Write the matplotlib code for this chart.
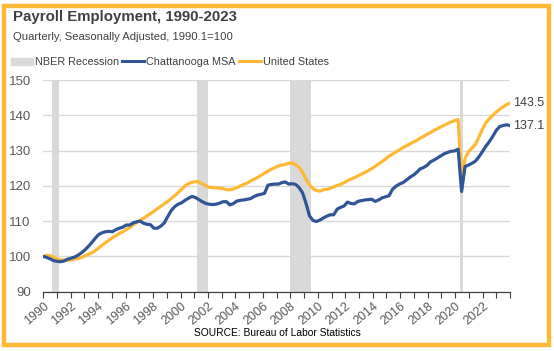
import matplotlib
matplotlib.use("Agg")
import matplotlib.pyplot as plt
from matplotlib.patches import Rectangle
from matplotlib.lines import Line2D
import numpy as np

plt.rcParams['font.family'] = ['Liberation Sans', 'DejaVu Sans']

years = list(range(1990, 2024))
quarters = [f"{y}Q{q}" for y in years for q in range(1, 5)]

united_states = [
    100.0, 100.3, 100.2, 99.8,
    99.3, 99.0, 99.0, 98.9,
    99.0, 99.2, 99.4, 99.7,
    100.1, 100.6, 101.0, 101.6,
    102.4, 103.2, 103.9, 104.6,
    105.3, 105.9, 106.5, 107.0,
    107.6, 108.2, 108.9, 109.6,
    110.2, 110.8, 111.5, 112.1,
    112.8, 113.5, 114.2, 114.9,
    115.6, 116.4, 117.2, 118.1,
    119.0, 120.0, 120.6, 121.0,
    121.2, 121.1, 120.6, 120.0,
    119.6, 119.5, 119.4, 119.4,
    119.2, 118.9, 118.9, 119.1,
    119.5, 120.0, 120.4, 120.8,
    121.4, 121.9, 122.4, 123.0,
    123.6, 124.2, 124.7, 125.2,
    125.6, 125.9, 126.1, 126.4,
    126.5, 126.0, 125.2, 123.8,
    121.9, 120.3, 119.2, 118.7,
    118.5, 118.9, 119.0, 119.3,
    119.7, 120.1, 120.4, 120.9,
    121.5, 121.9, 122.3, 122.8,
    123.3, 123.8, 124.3, 124.9,
    125.5, 126.2, 126.9, 127.6,
    128.4, 129.0, 129.6, 130.2,
    130.8, 131.3, 131.9, 132.4,
    132.9, 133.5, 134.0, 134.6,
    135.1, 135.7, 136.2, 136.7,
    137.2, 137.7, 138.1, 138.5,
    138.8, 122.0, 127.8, 129.7,
    130.7, 131.8, 133.8, 136.0,
    137.9, 139.0, 140.0, 140.9,
    141.7, 142.4, 143.0, 143.5,
]

chattanooga = [
    100.0, 99.7, 99.3, 98.8,
    98.6, 98.5, 98.7, 99.2,
    99.5, 99.8, 100.3, 101.0,
    101.8, 102.8, 103.9, 105.1,
    106.2, 106.7, 107.0, 107.1,
    107.0, 107.6, 108.0, 108.3,
    108.9, 108.9, 109.5, 109.8,
    110.0, 109.4, 109.1, 109.0,
    108.0, 108.0, 108.6, 109.5,
    111.3, 113.0, 114.1, 114.8,
    115.2, 115.9, 116.5, 117.0,
    116.7, 116.1, 115.5, 115.0,
    114.8, 114.7, 114.8, 115.1,
    115.5, 115.5, 114.6, 115.0,
    115.7, 115.9, 116.0, 116.2,
    116.4, 117.0, 117.4, 117.6,
    117.9, 120.2, 120.4, 120.5,
    120.5, 120.9, 121.1, 120.5,
    120.6, 120.4, 119.5, 118.0,
    115.0, 111.5, 110.2, 109.9,
    110.3, 110.9, 111.4, 111.8,
    111.8, 113.4, 113.9, 114.3,
    115.4, 115.0, 114.9, 115.6,
    115.8, 116.0, 116.1, 116.2,
    115.6, 116.0, 116.6, 116.9,
    117.2, 119.0, 119.9, 120.5,
    120.9, 121.6, 122.4, 123.0,
    123.8, 124.8, 125.2, 125.8,
    126.8, 127.3, 127.9, 128.5,
    129.1, 129.5, 129.8, 129.9,
    130.4, 118.4, 125.5, 125.9,
    126.4, 127.0, 128.2, 129.7,
    131.2, 132.5, 134.0, 135.7,
    136.8, 137.1, 137.3, 137.1,
]

recession_quarters = ['1990Q4', '1991Q1', '2001Q2', '2001Q3', '2001Q4',
                      '2008Q1', '2008Q2', '2008Q3', '2008Q4', '2009Q1', '2009Q2',
                      '2020Q2']

tick_years = list(range(1990, 2025))
label_years = list(range(1990, 2023, 2))
y_ticks = [90, 100, 110, 120, 130, 140, 150]

BLUE = '#2F5597'
ORANGE = '#FFB833'
GRAY_BAR = '#D9D9D9'
TXT = '#404040'
TICK_TXT = '#595959'

W, H = 554, 351
fig = plt.figure(figsize=(W / 100, H / 100), dpi=100)
fig.patch.set_facecolor('white')

left, right, top, bottom = 43.3, 510.0, 80.0, 291.7
ax = fig.add_axes([left / W, 1 - bottom / H, (right - left) / W, (bottom - top) / H])

x = np.arange(len(quarters))
rec_idx = [quarters.index(q) for q in recession_quarters]
ax.bar(rec_idx, [y_ticks[-1] - y_ticks[0]] * len(rec_idx), bottom=y_ticks[0],
       width=1.0, color=GRAY_BAR, zorder=1, label='NBER Recession', linewidth=0)

ax.plot(x, chattanooga, color=BLUE, lw=2.3, zorder=3, label='Chattanooga MSA',
        solid_joinstyle='round', solid_capstyle='round')
ax.plot(x, united_states, color=ORANGE, lw=2.3, zorder=2, label='United States',
        solid_joinstyle='round', solid_capstyle='round')

ax.set_xlim(0, len(quarters) - 1)
ax.set_ylim(y_ticks[0], y_ticks[-1])
ax.set_yticks(y_ticks)
ax.yaxis.grid(True, color='#D9D9D9', lw=1.0, zorder=0)
ax.set_axisbelow(True)

tick_pos = np.linspace(0, len(quarters) - 1, len(tick_years))
ax.set_xticks(tick_pos)
ax.set_xticklabels([str(y) if y in label_years else '' for y in tick_years],
                   rotation=40, ha='right', rotation_mode='anchor')
ax.tick_params(axis='x', length=4, width=0.8, color='#404040', direction='out',
               labelsize=9, labelcolor=TICK_TXT, pad=2)
ax.tick_params(axis='y', length=0, labelsize=9.5, labelcolor=TICK_TXT, pad=9)
for s in ['left', 'right', 'top']:
    ax.spines[s].set_visible(False)
ax.spines['bottom'].set_color('#404040')
ax.spines['bottom'].set_linewidth(0.9)

# end labels
for series in (united_states, chattanooga):
    ax.annotate(f"{series[-1]:.1f}", xy=(x[-1], series[-1]), xytext=(2, 0),
                textcoords='offset points', va='center', ha='left', fontsize=9,
                color=TXT, annotation_clip=False)

# titles
fig.text(13 / W, 1 - 17 / H, 'Payroll Employment, 1990-2023', fontsize=10.8,
         fontweight='bold', color=TXT, va='center', ha='left')
fig.text(13 / W, 1 - 37 / H, 'Quarterly, Seasonally Adjusted, 1990.1=100', fontsize=8.1,
         color=TXT, va='center', ha='left')

# legend
handles = [Rectangle((0, 0), 1, 1, color=GRAY_BAR),
           Line2D([], [], color=BLUE, lw=2.2),
           Line2D([], [], color=ORANGE, lw=2.2)]
fig.legend(handles, ['NBER Recession', 'Chattanooga MSA', 'United States'],
           loc='center left', bbox_to_anchor=(9 / W, 1 - 62 / H), ncol=3, frameon=False,
           fontsize=7.8, handlelength=2.0, handleheight=0.6, handletextpad=0.2,
           columnspacing=0.3, labelcolor=TXT, borderaxespad=0, borderpad=0.2)

fig.text(0.5, 1 - 333 / H, 'SOURCE: Bureau of Labor Statistics', fontsize=7.4,
         color='black', ha='center', va='center')

# frame
frame = Rectangle((4 / W, 1 - 344.5 / H), 545 / W, 339 / H, transform=fig.transFigure,
                  fill=False, edgecolor='#FDB935', lw=3.2, zorder=10)
fig.patches.append(frame)

fig.savefig('out.png', dpi=100)
